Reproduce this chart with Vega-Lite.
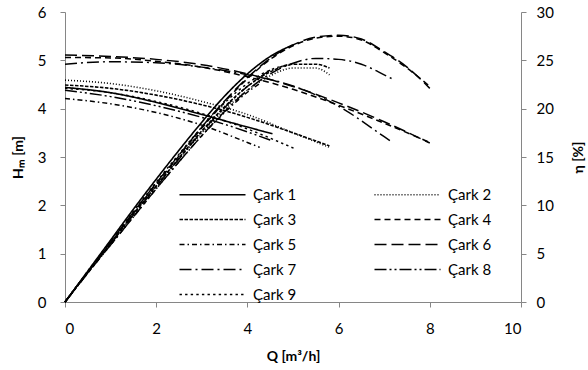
{
  "$schema": "https://vega.github.io/schema/vega-lite/v6.json",
  "width": 456,
  "height": 290,
  "autosize": {"type": "none"},
  "padding": {"left": 65, "top": 12, "right": 67, "bottom": 68},
  "background": "white",
  "config": {
    "view": {"stroke": null},
    "font": "Lato",
    "axis": {
      "grid": false,
      "domainColor": "#868686",
      "tickColor": "#868686",
      "tickSize": 5,
      "labelFontSize": 15,
      "labelColor": "black",
      "titleFontSize": 14,
      "titleFontWeight": "bold",
      "titleColor": "black"
    }
  },
  "datasets": {
    "curves": [
      {"c":"Çark 1","t":"H","q":0,"v":4.44},{"c":"Çark 1","t":"H","q":1,"v":4.33},{"c":"Çark 1","t":"H","q":2,"v":4.13},{"c":"Çark 1","t":"H","q":3,"v":3.88},{"c":"Çark 1","t":"H","q":4,"v":3.62},{"c":"Çark 1","t":"H","q":4.55,"v":3.48},
      {"c":"Çark 2","t":"H","q":0,"v":4.59},{"c":"Çark 2","t":"H","q":1,"v":4.52},{"c":"Çark 2","t":"H","q":2,"v":4.37},{"c":"Çark 2","t":"H","q":3,"v":4.15},{"c":"Çark 2","t":"H","q":4,"v":3.88},{"c":"Çark 2","t":"H","q":5,"v":3.5},{"c":"Çark 2","t":"H","q":5.8,"v":3.2},
      {"c":"Çark 3","t":"H","q":0,"v":4.49},{"c":"Çark 3","t":"H","q":1,"v":4.42},{"c":"Çark 3","t":"H","q":2,"v":4.28},{"c":"Çark 3","t":"H","q":3,"v":4.08},{"c":"Çark 3","t":"H","q":4,"v":3.82},{"c":"Çark 3","t":"H","q":5,"v":3.5},{"c":"Çark 3","t":"H","q":5.8,"v":3.23},
      {"c":"Çark 4","t":"H","q":0,"v":5.06},{"c":"Çark 4","t":"H","q":1,"v":5.05},{"c":"Çark 4","t":"H","q":2,"v":4.98},{"c":"Çark 4","t":"H","q":3,"v":4.86},{"c":"Çark 4","t":"H","q":4,"v":4.66},{"c":"Çark 4","t":"H","q":5,"v":4.4},{"c":"Çark 4","t":"H","q":6,"v":4.07},{"c":"Çark 4","t":"H","q":7,"v":3.7},{"c":"Çark 4","t":"H","q":8,"v":3.3},
      {"c":"Çark 5","t":"H","q":0,"v":4.21},{"c":"Çark 5","t":"H","q":1,"v":4.1},{"c":"Çark 5","t":"H","q":2,"v":3.92},{"c":"Çark 5","t":"H","q":3,"v":3.66},{"c":"Çark 5","t":"H","q":4,"v":3.3},{"c":"Çark 5","t":"H","q":4.27,"v":3.2},
      {"c":"Çark 6","t":"H","q":0,"v":5.11},{"c":"Çark 6","t":"H","q":1,"v":5.08},{"c":"Çark 6","t":"H","q":2,"v":5.02},{"c":"Çark 6","t":"H","q":3,"v":4.91},{"c":"Çark 6","t":"H","q":4,"v":4.72},{"c":"Çark 6","t":"H","q":5,"v":4.46},{"c":"Çark 6","t":"H","q":6,"v":4.12},{"c":"Çark 6","t":"H","q":7,"v":3.73},{"c":"Çark 6","t":"H","q":8,"v":3.29},
      {"c":"Çark 7","t":"H","q":0,"v":4.92},{"c":"Çark 7","t":"H","q":1,"v":4.97},{"c":"Çark 7","t":"H","q":2,"v":4.95},{"c":"Çark 7","t":"H","q":3,"v":4.86},{"c":"Çark 7","t":"H","q":4,"v":4.7},{"c":"Çark 7","t":"H","q":5,"v":4.47},{"c":"Çark 7","t":"H","q":6,"v":4.05},{"c":"Çark 7","t":"H","q":7,"v":3.42},{"c":"Çark 7","t":"H","q":7.17,"v":3.31},
      {"c":"Çark 8","t":"H","q":0,"v":4.38},{"c":"Çark 8","t":"H","q":1,"v":4.25},{"c":"Çark 8","t":"H","q":2,"v":4.06},{"c":"Çark 8","t":"H","q":3,"v":3.82},{"c":"Çark 8","t":"H","q":4,"v":3.52},{"c":"Çark 8","t":"H","q":4.5,"v":3.35},
      {"c":"Çark 9","t":"H","q":0,"v":4.42},{"c":"Çark 9","t":"H","q":1,"v":4.33},{"c":"Çark 9","t":"H","q":2,"v":4.15},{"c":"Çark 9","t":"H","q":3,"v":3.9},{"c":"Çark 9","t":"H","q":4,"v":3.58},{"c":"Çark 9","t":"H","q":5.04,"v":3.17},

      {"c":"Çark 1","t":"E","q":0,"v":0},{"c":"Çark 1","t":"E","q":0.5,"v":3.2},{"c":"Çark 1","t":"E","q":1,"v":6.4},{"c":"Çark 1","t":"E","q":1.5,"v":9.6},{"c":"Çark 1","t":"E","q":2,"v":12.7},{"c":"Çark 1","t":"E","q":2.5,"v":15.7},{"c":"Çark 1","t":"E","q":3,"v":18.6},{"c":"Çark 1","t":"E","q":3.5,"v":21.3},{"c":"Çark 1","t":"E","q":4,"v":23.6},{"c":"Çark 1","t":"E","q":4.5,"v":25.4},{"c":"Çark 1","t":"E","q":5,"v":26.6},
      {"c":"Çark 2","t":"E","q":0,"v":0},{"c":"Çark 2","t":"E","q":0.5,"v":3.1},{"c":"Çark 2","t":"E","q":1,"v":6.1},{"c":"Çark 2","t":"E","q":1.5,"v":9.1},{"c":"Çark 2","t":"E","q":2,"v":12},{"c":"Çark 2","t":"E","q":2.5,"v":14.8},{"c":"Çark 2","t":"E","q":3,"v":17.5},{"c":"Çark 2","t":"E","q":3.5,"v":19.9},{"c":"Çark 2","t":"E","q":4,"v":21.9},{"c":"Çark 2","t":"E","q":4.5,"v":23.4},{"c":"Çark 2","t":"E","q":5,"v":24.2},{"c":"Çark 2","t":"E","q":5.5,"v":24.2},{"c":"Çark 2","t":"E","q":5.8,"v":23.5},
      {"c":"Çark 3","t":"E","q":0,"v":0},{"c":"Çark 3","t":"E","q":0.5,"v":3.1},{"c":"Çark 3","t":"E","q":1,"v":6.1},{"c":"Çark 3","t":"E","q":1.5,"v":9.1},{"c":"Çark 3","t":"E","q":2,"v":12},{"c":"Çark 3","t":"E","q":2.5,"v":14.9},{"c":"Çark 3","t":"E","q":3,"v":17.7},{"c":"Çark 3","t":"E","q":3.5,"v":20.2},{"c":"Çark 3","t":"E","q":4,"v":22.3},{"c":"Çark 3","t":"E","q":4.5,"v":23.8},{"c":"Çark 3","t":"E","q":5,"v":24.6},{"c":"Çark 3","t":"E","q":5.5,"v":24.6},{"c":"Çark 3","t":"E","q":5.8,"v":24.2},
      {"c":"Çark 4","t":"E","q":0,"v":0},{"c":"Çark 4","t":"E","q":0.5,"v":3.1},{"c":"Çark 4","t":"E","q":1,"v":6.1},{"c":"Çark 4","t":"E","q":1.5,"v":9.2},{"c":"Çark 4","t":"E","q":2,"v":12.2},{"c":"Çark 4","t":"E","q":2.5,"v":15.1},{"c":"Çark 4","t":"E","q":3,"v":18},{"c":"Çark 4","t":"E","q":3.5,"v":20.7},{"c":"Çark 4","t":"E","q":4,"v":23.1},{"c":"Çark 4","t":"E","q":4.5,"v":25.1},{"c":"Çark 4","t":"E","q":5,"v":26.5},{"c":"Çark 4","t":"E","q":5.5,"v":27.3},{"c":"Çark 4","t":"E","q":6,"v":27.5},{"c":"Çark 4","t":"E","q":6.5,"v":27.1},{"c":"Çark 4","t":"E","q":7,"v":25.8},{"c":"Çark 4","t":"E","q":7.5,"v":24.2},{"c":"Çark 4","t":"E","q":8,"v":22.3},
      {"c":"Çark 5","t":"E","q":0,"v":0},{"c":"Çark 5","t":"E","q":0.5,"v":3},{"c":"Çark 5","t":"E","q":1,"v":5.9},{"c":"Çark 5","t":"E","q":1.5,"v":8.8},{"c":"Çark 5","t":"E","q":2,"v":11.7},{"c":"Çark 5","t":"E","q":2.5,"v":14.5},{"c":"Çark 5","t":"E","q":3,"v":17.2},{"c":"Çark 5","t":"E","q":3.5,"v":19.6},{"c":"Çark 5","t":"E","q":4,"v":21.7},{"c":"Çark 5","t":"E","q":4.27,"v":22.6},
      {"c":"Çark 6","t":"E","q":0,"v":0},{"c":"Çark 6","t":"E","q":0.5,"v":3.1},{"c":"Çark 6","t":"E","q":1,"v":6.2},{"c":"Çark 6","t":"E","q":1.5,"v":9.3},{"c":"Çark 6","t":"E","q":2,"v":12.3},{"c":"Çark 6","t":"E","q":2.5,"v":15.2},{"c":"Çark 6","t":"E","q":3,"v":18.1},{"c":"Çark 6","t":"E","q":3.5,"v":20.8},{"c":"Çark 6","t":"E","q":4,"v":23.2},{"c":"Çark 6","t":"E","q":4.5,"v":25.2},{"c":"Çark 6","t":"E","q":5,"v":26.6},{"c":"Çark 6","t":"E","q":5.5,"v":27.4},{"c":"Çark 6","t":"E","q":6,"v":27.6},{"c":"Çark 6","t":"E","q":6.5,"v":27.2},{"c":"Çark 6","t":"E","q":7,"v":25.9},{"c":"Çark 6","t":"E","q":7.5,"v":24.3},{"c":"Çark 6","t":"E","q":8,"v":22.1},
      {"c":"Çark 7","t":"E","q":0,"v":0},{"c":"Çark 7","t":"E","q":0.5,"v":3},{"c":"Çark 7","t":"E","q":1,"v":5.9},{"c":"Çark 7","t":"E","q":1.5,"v":8.8},{"c":"Çark 7","t":"E","q":2,"v":11.7},{"c":"Çark 7","t":"E","q":2.5,"v":14.5},{"c":"Çark 7","t":"E","q":3,"v":17.2},{"c":"Çark 7","t":"E","q":3.5,"v":19.7},{"c":"Çark 7","t":"E","q":4,"v":21.9},{"c":"Çark 7","t":"E","q":4.5,"v":23.6},{"c":"Çark 7","t":"E","q":5,"v":24.7},{"c":"Çark 7","t":"E","q":5.5,"v":25.2},{"c":"Çark 7","t":"E","q":6,"v":25.1},{"c":"Çark 7","t":"E","q":6.5,"v":24.6},{"c":"Çark 7","t":"E","q":7,"v":23.5},{"c":"Çark 7","t":"E","q":7.17,"v":23.1},
      {"c":"Çark 8","t":"E","q":0,"v":0},{"c":"Çark 8","t":"E","q":0.5,"v":3},{"c":"Çark 8","t":"E","q":1,"v":6},{"c":"Çark 8","t":"E","q":1.5,"v":9},{"c":"Çark 8","t":"E","q":2,"v":11.9},{"c":"Çark 8","t":"E","q":2.5,"v":14.8},{"c":"Çark 8","t":"E","q":3,"v":17.6},{"c":"Çark 8","t":"E","q":3.5,"v":20.1},{"c":"Çark 8","t":"E","q":4,"v":22.3},{"c":"Çark 8","t":"E","q":4.5,"v":24},
      {"c":"Çark 9","t":"E","q":0,"v":0},{"c":"Çark 9","t":"E","q":0.5,"v":3.2},{"c":"Çark 9","t":"E","q":1,"v":6.3},{"c":"Çark 9","t":"E","q":1.5,"v":9.4},{"c":"Çark 9","t":"E","q":2,"v":12.4},{"c":"Çark 9","t":"E","q":2.5,"v":15.3},{"c":"Çark 9","t":"E","q":3,"v":18.1},{"c":"Çark 9","t":"E","q":3.5,"v":20.6},{"c":"Çark 9","t":"E","q":4,"v":22.6},{"c":"Çark 9","t":"E","q":4.5,"v":24},{"c":"Çark 9","t":"E","q":5.04,"v":24.6}
    ]
  },
  "data": {"name": "curves"},
  "layer": [
    {
      "transform": [{"filter": "datum.t === 'H'"}],
      "mark": {"type": "line", "interpolate": "monotone", "color": "black", "strokeCap": "butt"},
      "encoding": {
        "x": {"field": "q", "type": "quantitative", "scale": {"domain": [0, 10]}, "axis": {"values": [0, 2, 4, 6, 8, 10], "title": "Q [m³/h]", "labelPadding": 14, "titlePadding": 13}},
        "y": {"field": "v", "type": "quantitative", "scale": {"domain": [0, 6]}, "axis": {"values": [0, 1, 2, 3, 4, 5, 6], "title": "Hₘ [m]", "labelPadding": 14, "titlePadding": 12}},
        "detail": {"field": "c"},
        "strokeDash": {
          "field": "c", "type": "nominal",
          "scale": {
            "domain": ["Çark 1", "Çark 2", "Çark 3", "Çark 4", "Çark 5", "Çark 6", "Çark 7", "Çark 8", "Çark 9"],
            "range": [[1, 0], [1, 2], [3.5, 1.5], [6, 4], [5, 3, 1.5, 3], [12, 5], [12, 4, 2, 4], [12, 3, 2, 3, 2, 3], [2.4, 3.2]]
          },
          "legend": {
            "orient": "none", "legendX": 107, "legendY": 175, "columns": 2, "direction": "horizontal", "title": null,
            "symbolType": "M0,0H12", "symbolSize": 121, "symbolStrokeColor": "black",
            "labelFontSize": 15, "labelColor": "black", "labelOffset": 66, "columnPadding": 70, "rowPadding": 9
          }
        },
        "strokeWidth": {
          "field": "c", "type": "nominal",
          "scale": {
            "domain": ["Çark 1", "Çark 2", "Çark 3", "Çark 4", "Çark 5", "Çark 6", "Çark 7", "Çark 8", "Çark 9"],
            "range": [1.6, 1.4, 1.6, 1.6, 1.6, 1.8, 1.6, 1.6, 2.6]
          },
          "legend": {
            "orient": "none", "legendX": 107, "legendY": 175, "columns": 2, "direction": "horizontal", "title": null,
            "symbolType": "M0,0H12", "symbolSize": 121, "symbolStrokeColor": "black",
            "labelFontSize": 15, "labelColor": "black", "labelOffset": 66, "columnPadding": 70, "rowPadding": 9
          }
        }
      }
    },
    {
      "transform": [{"filter": "datum.t === 'E'"}],
      "mark": {"type": "line", "interpolate": "monotone", "color": "black", "strokeCap": "butt"},
      "encoding": {
        "x": {"field": "q", "type": "quantitative", "scale": {"domain": [0, 10]}},
        "y": {"field": "v", "type": "quantitative", "scale": {"domain": [0, 30]}, "axis": {"orient": "right", "values": [0, 5, 10, 15, 20, 25, 30], "title": "η [%]", "titleAngle": -90, "labelPadding": 10, "titlePadding": 32}},
        "detail": {"field": "c"},
        "strokeDash": {"field": "c", "type": "nominal"},
        "strokeWidth": {"field": "c", "type": "nominal"}
      }
    }
  ],
  "resolve": {"scale": {"y": "independent"}}
}
